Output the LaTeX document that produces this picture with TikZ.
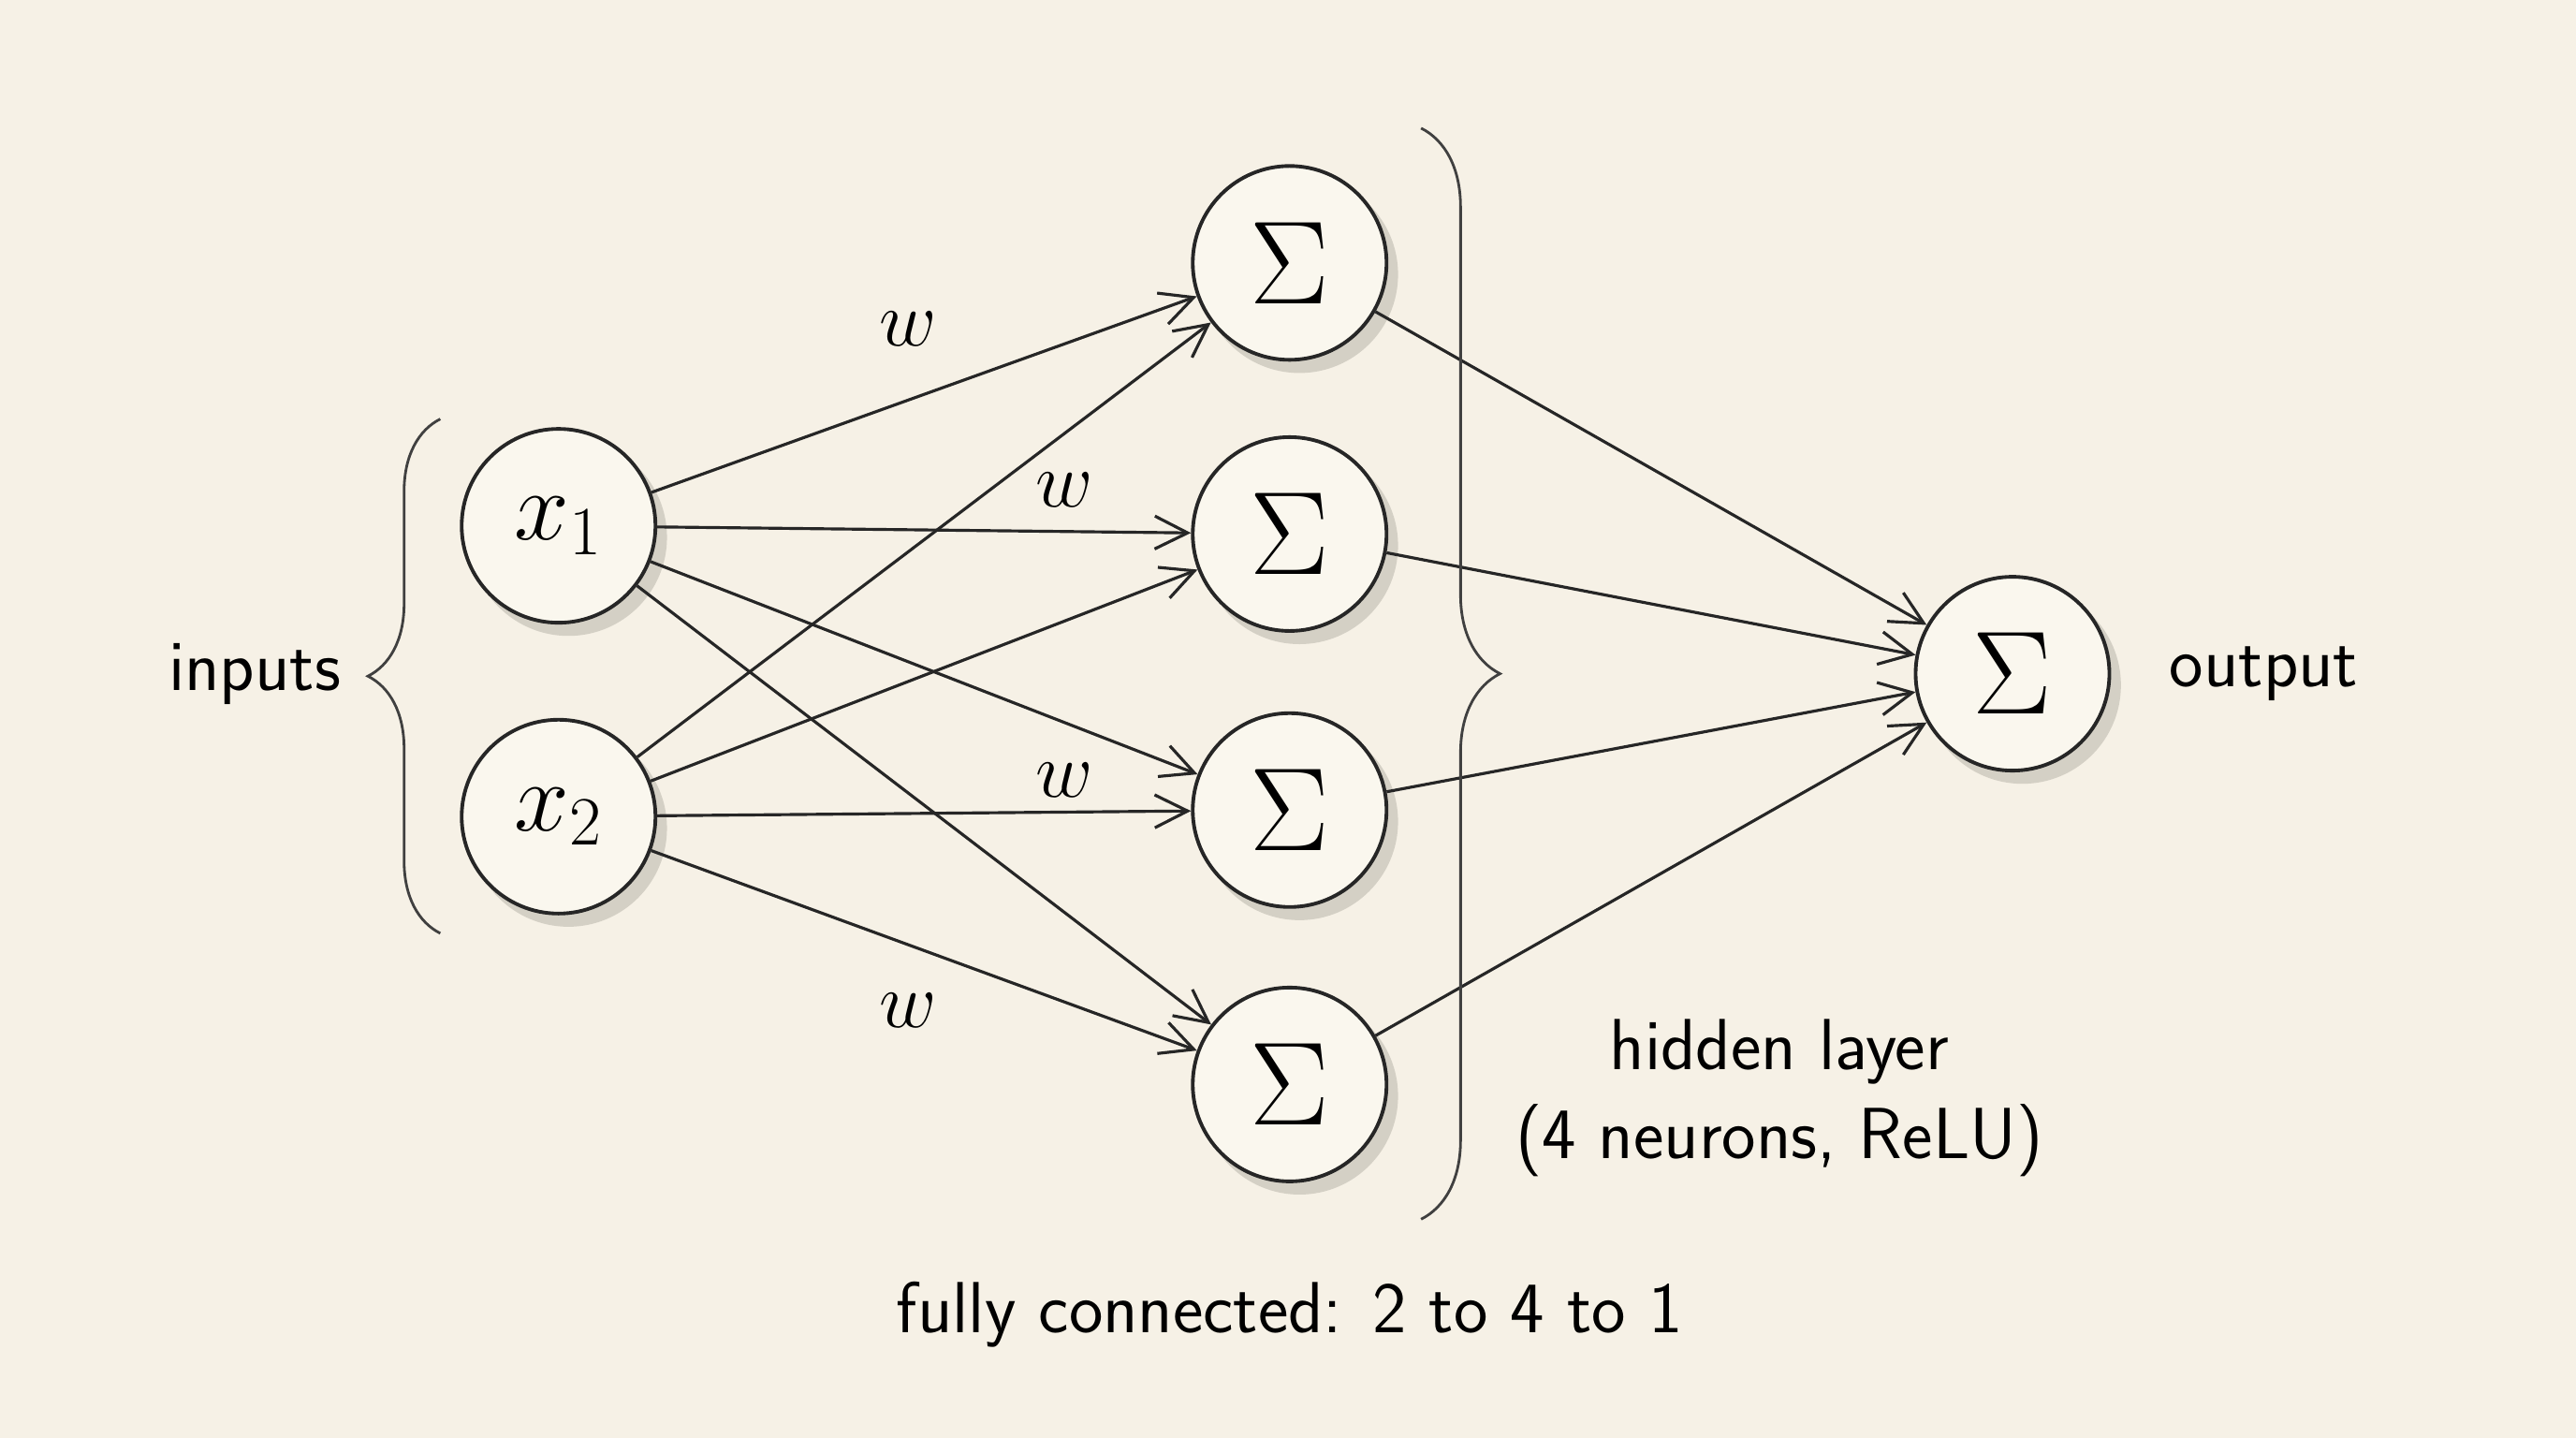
\RequirePackage{fix-cm}
\documentclass[tikz,border=0pt]{standalone}
\usetikzlibrary{arrows.meta,decorations.pathreplacing}
\definecolor{bg}{RGB}{246,241,230}
\definecolor{nodefill}{RGB}{250,247,238}
\definecolor{shad}{RGB}{190,186,176}
\begin{document}
\begin{tikzpicture}[x=0.01755cm,y=-0.01755cm,
  neuron/.style={circle,draw=black!85,line width=1.1pt,fill=nodefill,minimum size=2.07cm,inner sep=0pt,font=\fontsize{30}{34}\selectfont},
  sig/.style={neuron,font=\fontsize{36}{40}\selectfont},
  conn/.style={-{Straight Barb[length=10pt,width=10pt]},line width=0.9pt,black!85},
  lab/.style={font=\sffamily\fontsize{22}{27}\selectfont},
  wl/.style={font=\fontsize{24}{28}\selectfont}]
\fill[bg] (0,0) rectangle (1568,875);
\useasboundingbox (0,0) rectangle (1568,875);
\foreach \p in {(340,320),(340,497),(785,160),(785,325),(785,493),(785,660),(1225,410)}
  \fill[shad,opacity=0.6] \p ++(6,7) circle (60);
\node[neuron] (x1) at (340,320) {$x_1$};
\node[neuron] (x2) at (340,497) {$x_2$};
\node[sig] (h1) at (785,160) {$\Sigma$};
\node[sig] (h2) at (785,325) {$\Sigma$};
\node[sig] (h3) at (785,493) {$\Sigma$};
\node[sig] (h4) at (785,660) {$\Sigma$};
\node[sig] (o) at (1225,410) {$\Sigma$};
\foreach \i in {x1,x2}{\foreach \h in {h1,h2,h3,h4}{\draw[conn] (\i) -- (\h);}}
\foreach \h in {h1,h2,h3,h4}{\draw[conn] (\h) -- (o);}
\node[wl] (w1) at (553,200) {$w$};
\node[wl] (w2) at (648,298) {$w$};
\node[wl] (w3) at (648,475) {$w$};
\node[wl] (w4) at (553,615) {$w$};
\coordinate (lb1) at (268,568); \coordinate (lb2) at (268,255);
\draw[black!75,line width=0.8pt,decorate,decoration={brace,amplitude=22pt}] (lb1) -- (lb2);
\coordinate (rb1) at (865,78); \coordinate (rb2) at (865,742);
\draw[black!75,line width=0.8pt,decorate,decoration={brace,amplitude=24pt}] (rb1) -- (rb2);
\node[lab] (inp) at (155,410) {inputs};
\node[lab] (out) at (1378,410) {output};
\node[lab,align=center] (hid) at (1083,668) {hidden layer\\(4 neurons, ReLU)};
\node[lab] (cap) at (785,800) {fully connected: 2 to 4 to 1};
\end{tikzpicture}
\end{document}
